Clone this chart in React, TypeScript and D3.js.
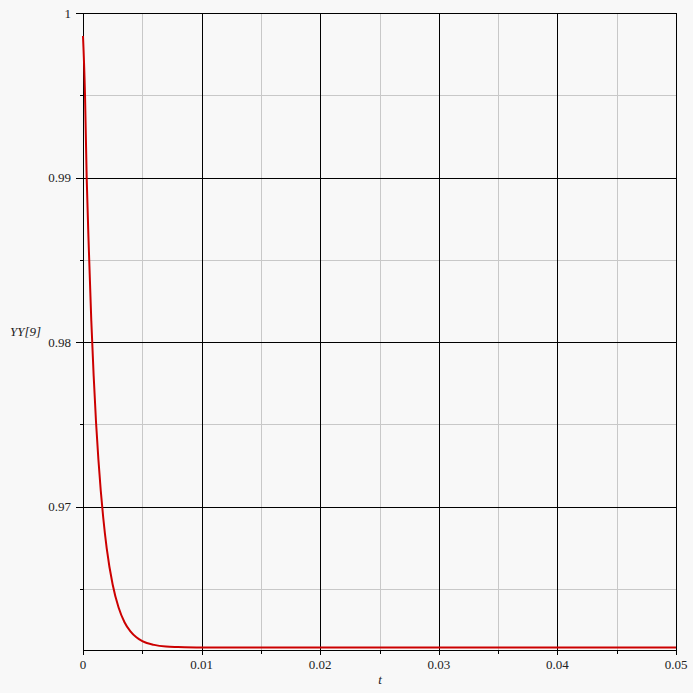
import React from "react";
import * as d3 from "d3";

const tValues = [0, 0.00017, 0.00031, 0.0005, 0.0007, 0.0009, 0.0011, 0.0013, 0.0015, 0.0017, 0.002, 0.0025, 0.003, 0.0035, 0.004, 0.0045, 0.005, 0.006, 0.007, 0.008, 0.01, 0.02, 0.03, 0.04, 0.05];
const yValues = [0.9986, 0.995, 0.99, 0.9855, 0.9813, 0.97795, 0.97512, 0.97286, 0.97096, 0.96938, 0.96748, 0.96528, 0.96388, 0.96299, 0.96243, 0.96207, 0.96184, 0.96161, 0.96151, 0.96148, 0.96145, 0.96145, 0.96145, 0.96145, 0.96145];

const xMajorTicks = [0, 0.01, 0.02, 0.03, 0.04, 0.05];
const xMinorTicks = [0.005, 0.015, 0.025, 0.035, 0.045];
const xTickLabels = ["0", "0.01", "0.02", "0.03", "0.04", "0.05"];
const yMajorTicks = [0.97, 0.98, 0.99, 1];
const yMinorTicks = [0.965, 0.975, 0.985, 0.995];
const yTickLabels = ["0.97", "0.98", "0.99", "1"];

const W = 693, H = 693;
const left = 83, right = 676, top = 13, bottom = 650;

export default function App() {
  const x = d3.scaleLinear().domain([0, 0.05]).range([left, right]);
  const y = d3.scaleLinear().domain([0.9613, 1]).range([bottom, top]);
  const px = (v: number) => Math.round(x(v)) + 0.5;
  const py = (v: number) => Math.round(y(v)) + 0.5;
  const pts = tValues.map((t, i) => [t, yValues[i]] as [number, number]);
  const line = d3.line<[number, number]>().x(d => x(d[0])).y(d => y(d[1])).curve(d3.curveMonotoneX);
  const font = "Liberation Serif, DejaVu Serif, serif";
  const textStyle = { fontFamily: font, fontSize: "13px" } as React.CSSProperties;
  return (
    <svg width={W} height={H} style={{ position: "absolute", left: 0, top: 0, background: "#f8f8f8" }}>
      <rect x={0} y={0} width={W} height={H} fill="#f8f8f8" />
      <g shapeRendering="crispEdges">
        {xMinorTicks.map(v => (
          <g key={"xm" + v}>
            <line x1={px(v)} x2={px(v)} y1={top} y2={bottom} stroke="#c8c8c8" strokeWidth={1} />
            <line x1={px(v)} x2={px(v)} y1={bottom} y2={bottom + 4} stroke="#000" strokeWidth={1} />
          </g>
        ))}
        {yMinorTicks.map(v => (
          <g key={"ym" + v}>
            <line x1={left} x2={right} y1={py(v)} y2={py(v)} stroke="#c8c8c8" strokeWidth={1} />
            <line x1={left - 3} x2={left} y1={py(v)} y2={py(v)} stroke="#000" strokeWidth={1} />
          </g>
        ))}
        {xMajorTicks.map(v => (
          <line key={"xM" + v} x1={px(v)} x2={px(v)} y1={top} y2={bottom + 5} stroke="#000" strokeWidth={1} />
        ))}
        {yMajorTicks.map(v => (
          <line key={"yM" + v} x1={left - 7} x2={right} y1={py(v)} y2={py(v)} stroke="#000" strokeWidth={1} />
        ))}
        <line x1={px(0)} x2={px(0)} y1={top} y2={bottom} stroke="#000" strokeWidth={1} />
        <line x1={left} x2={right} y1={bottom + 0.5} y2={bottom + 0.5} stroke="#000" strokeWidth={1} />
      </g>
      {xMajorTicks.map((v, i) => (
        <text key={"xl" + v} x={x(v)} y={669} textAnchor="middle" style={textStyle} fill="#222">{xTickLabels[i]}</text>
      ))}
      {yMajorTicks.map((v, i) => (
        <text key={"yl" + v} x={71} y={y(v) + 4.5} textAnchor="end" style={textStyle} fill="#222">{yTickLabels[i]}</text>
      ))}
      <path d={line(pts) || ""} fill="none" stroke="#cc0000" strokeWidth={2} />
      <text x={10} y={336} style={{ ...textStyle, fontStyle: "italic" }} fill="#222">YY[9]</text>
      <text x={380} y={684} style={{ ...textStyle, fontStyle: "italic" }} fill="#222" textAnchor="middle">t</text>
    </svg>
  );
}
